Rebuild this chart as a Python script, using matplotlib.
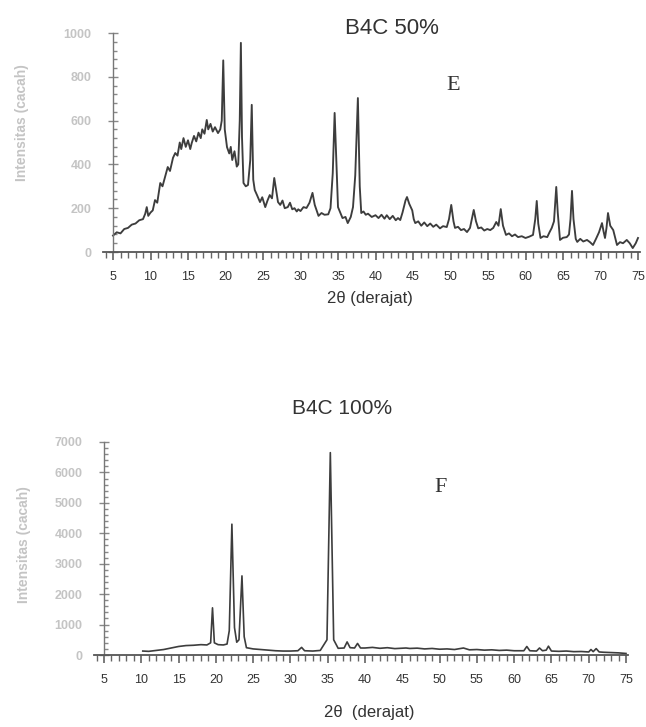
import numpy as np
import matplotlib
matplotlib.use('Agg')
import matplotlib.pyplot as plt
from matplotlib.ticker import MultipleLocator

# B4C 50% pattern (2theta, intensity)
theta_50 = [5.0, 5.5, 6.0, 6.5, 7.0, 7.5, 8.0, 8.5, 9.0, 9.3, 9.5, 9.7, 10.0, 10.3, 10.6, 10.9,
            11.3, 11.6, 12.0, 12.3, 12.6, 13.0, 13.3, 13.6, 13.9, 14.1, 14.4, 14.7, 15.0, 15.3,
            15.5, 15.8, 16.1, 16.4, 16.7, 16.9, 17.2, 17.5, 17.7, 18.0, 18.3, 18.6, 19.0, 19.3,
            19.5, 19.7, 19.9, 20.2, 20.5, 20.7, 20.9, 21.2, 21.5, 21.7, 21.9, 22.05, 22.2, 22.4,
            22.7, 23.0, 23.3, 23.5, 23.7, 23.9, 24.2, 24.6, 24.9, 25.3, 25.6, 25.9, 26.2, 26.5,
            26.8, 27.0, 27.3, 27.6, 27.9, 28.3, 28.6, 28.9, 29.2, 29.5, 29.7, 30.0, 30.4, 30.8,
            31.2, 31.6, 31.9, 32.2, 32.4, 32.8, 33.2, 33.7, 34.0, 34.3, 34.55, 34.8, 35.0, 35.3,
            35.6, 36.0, 36.3, 36.7, 37.0, 37.3, 37.65, 37.9, 38.1, 38.4, 38.7, 39.0, 39.5, 40.0,
            40.4, 40.8, 41.2, 41.5, 41.9, 42.3, 42.7, 43.0, 43.3, 43.6, 44.0, 44.2, 44.5, 44.9,
            45.1, 45.3, 45.7, 46.1, 46.5, 46.9, 47.3, 47.7, 48.1, 48.6, 49.0, 49.5, 49.8, 50.1,
            50.4, 50.6, 51.0, 51.4, 51.8, 52.2, 52.6, 52.9, 53.1, 53.4, 53.7, 54.1, 54.5, 54.9,
            55.3, 55.7, 56.1, 56.4, 56.7, 57.0, 57.4, 57.8, 58.2, 58.6, 59.0, 59.5, 60.0, 60.5,
            61.0, 61.3, 61.5, 61.7, 62.0, 62.4, 62.9, 63.2, 63.5, 63.8, 64.1, 64.3, 64.6, 65.0,
            65.5, 65.8, 66.0, 66.2, 66.4, 66.7, 66.9, 67.3, 67.7, 68.2, 68.6, 69.0, 69.4, 69.8,
            70.2, 70.4, 70.6, 70.8, 71.0, 71.3, 71.7, 72.0, 72.2, 72.6, 73.0, 73.5, 73.9, 74.3,
            74.7, 75.0]
int_50 = [75, 90, 85, 105, 110, 125, 130, 145, 150, 175, 205, 165, 180, 190, 237, 225,
          315, 300, 350, 388, 370, 430, 452, 440, 500, 470, 520, 480, 510, 470,
          498, 530, 505, 545, 520, 560, 540, 603, 560, 585, 550, 570, 543, 560,
          600, 875, 560, 479, 450, 480, 420, 460, 390, 400, 600, 955, 525, 315,
          300, 306, 420, 672, 330, 283, 260, 228, 250, 205, 235, 260, 245, 338,
          270, 228, 215, 235, 200, 205, 225, 195, 200, 185, 195, 187, 205, 201,
          225, 270, 215, 185, 165, 178, 170, 172, 200, 360, 635, 400, 205, 180,
          155, 160, 132, 160, 205, 350, 703, 300, 178, 185, 170, 175, 160, 168,
          155, 170, 152, 168, 150, 165, 145, 155, 146, 180, 235, 251, 220, 190,
          150, 132, 140, 120, 135, 118, 130, 115, 125, 108, 118, 114, 150, 215,
          140, 110, 115, 100, 105, 91, 110, 160, 192, 140, 108, 112, 98, 105,
          100, 110, 137, 120, 196, 120, 78, 85, 72, 80, 68, 72, 64, 70,
          78, 150, 233, 130, 64, 72, 68, 90, 110, 140, 297, 180, 55, 65,
          68, 80, 150, 279, 150, 60, 46, 60, 48, 55, 45, 32, 60, 90,
          132, 95, 64, 110, 178, 120, 100, 60, 32, 45, 40, 55, 40, 18,
          40, 64]

# B4C 100% pattern
theta_100 = [10.2, 11.0, 12.0, 13.0, 14.0, 15.0, 16.0, 17.0, 18.0, 18.8, 19.3, 19.55, 19.8,
             20.3, 21.0, 21.5, 21.8, 22.15, 22.5, 22.8, 23.1, 23.5, 23.8, 24.1, 25.0, 26.0,
             27.0, 28.0, 29.0, 30.0, 31.0, 31.5, 31.9, 33.0, 34.0, 34.9, 35.35, 35.8, 36.4,
             37.2, 37.6, 38.0, 38.6, 39.0, 39.4, 40.0, 41.0, 42.0, 43.0, 44.0, 45.5, 46.0,
             47.0, 48.0, 49.0, 50.0, 51.0, 52.0, 53.2, 54.0, 55.0, 56.0, 57.0, 58.0, 59.0,
             60.0, 61.3, 61.7, 62.1, 63.0, 63.4, 63.8, 64.3, 64.6, 65.0, 66.0, 67.0, 68.0,
             69.0, 70.0, 70.3, 70.6, 71.0, 71.4, 72.0, 73.0, 74.0, 75.0]
int_100 = [130, 120, 150, 180, 230, 280, 310, 320, 340, 330, 400, 1550, 400,
           340, 330, 360, 800, 4300, 900, 420, 500, 2600, 600, 240, 200, 180,
           160, 140, 130, 130, 140, 250, 140, 130, 150, 500, 6650, 500, 220,
           230, 430, 240, 230, 380, 230, 230, 250, 220, 240, 210, 230, 215,
           225, 200, 215, 190, 200, 180, 230, 170, 180, 160, 170, 150, 160,
           140, 140, 280, 140, 130, 230, 140, 160, 290, 130, 120, 130, 110,
           115, 100, 180, 110, 210, 100, 90, 80, 70, 50]

x_ticks = list(range(5, 80, 5))

fig = plt.figure(figsize=(6.46, 7.27), dpi=100)
W, H = 646, 727


def setup(ax, ymax, ymajor, yminor, px_left, px_right, px_top, px_bottom):
    ax.set_position([px_left / W, 1 - px_bottom / H, (px_right - px_left) / W, (px_bottom - px_top) / H])
    ax.set_xlim(3.7, 75.2)
    ax.set_ylim(0, ymax)
    for s in ['top', 'right']:
        ax.spines[s].set_visible(False)
    ax.spines['left'].set_position(('data', 5))
    ax.spines['left'].set_color('#777777')
    ax.spines['bottom'].set_color('#555555')
    ax.spines['left'].set_linewidth(1.0)
    ax.spines['bottom'].set_linewidth(1.3)
    ax.set_xticks(x_ticks)
    ax.xaxis.set_minor_locator(MultipleLocator(1))
    ax.yaxis.set_major_locator(MultipleLocator(ymajor))
    ax.yaxis.set_minor_locator(MultipleLocator(yminor))
    ax.tick_params(axis='x', which='major', direction='out', length=6, width=1.1, color='#555555',
                   labelsize=9, labelcolor='#333333', pad=8)
    ax.tick_params(axis='x', which='minor', direction='out', length=4, width=1.0, color='#666666')
    ax.tick_params(axis='y', which='major', direction='inout', length=7, width=1.0, color='#888888',
                   labelsize=9, labelcolor='#c4c4c4', pad=12)
    ax.tick_params(axis='y', which='minor', direction='in', length=3, width=1.0, color='#888888')
    for lab in ax.get_xticklabels():
        lab.set_family('Liberation Sans')
    for lab in ax.get_yticklabels():
        lab.set_family('Liberation Sans')
        lab.set_weight('bold')


# top panel
ax1 = fig.add_axes([0, 0, 1, 1])
setup(ax1, 1000, 200, 40, 103.25, 639.5, 33, 252)
ax1.plot(theta_50, int_50, color='#3d3d3d', lw=1.35)

# bottom panel
ax2 = fig.add_axes([0, 0, 1, 1])
setup(ax2, 7000, 1000, 200, 94.3, 627.5, 442, 655)
ax2.plot(theta_100, int_100, color='#3d3d3d', lw=1.2)

fig.text(392 / W, 1 - 28 / H, 'B4C 50%', ha='center', va='center', fontsize=16,
         family='Liberation Sans', color='#333333')
fig.text(453 / W, 1 - 85 / H, 'E', ha='center', va='center', fontsize=16,
         family='Liberation Serif', color='#333333')
fig.text(370 / W, 1 - 299 / H, '2θ (derajat)', ha='center', va='center', fontsize=12,
         family='Liberation Sans', color='#333333')
fig.text(22 / W, 1 - 123 / H, 'Intensitas (cacah)', ha='center', va='center', rotation=90,
         fontsize=10, weight='bold', family='Liberation Sans', color='#c4c4c4')

fig.text(342 / W, 1 - 408 / H, 'B4C 100%', ha='center', va='center', fontsize=15,
         family='Liberation Sans', color='#333333')
fig.text(441 / W, 1 - 487 / H, 'F', ha='center', va='center', fontsize=16,
         family='Liberation Serif', color='#333333')
fig.text(369 / W, 1 - 712 / H, '2θ  (derajat)', ha='center', va='center', fontsize=12,
         family='Liberation Sans', color='#333333')
fig.text(24 / W, 1 - 545 / H, 'Intensitas (cacah)', ha='center', va='center', rotation=90,
         fontsize=10, weight='bold', family='Liberation Sans', color='#c4c4c4')

fig.savefig('out.png', dpi=100)
